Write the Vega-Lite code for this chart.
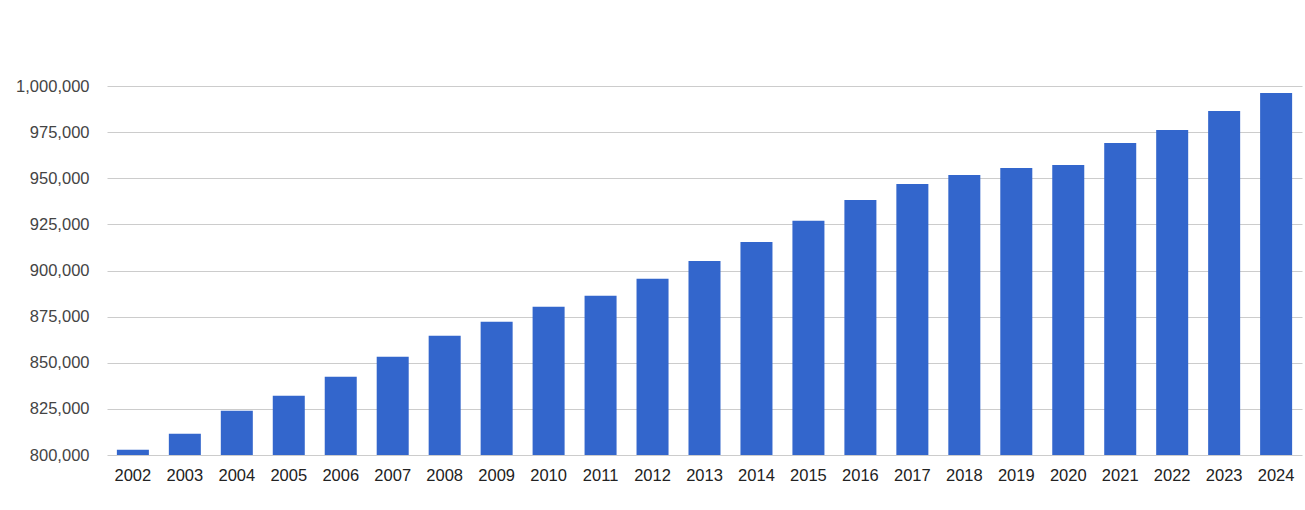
{
  "$schema": "https://vega.github.io/schema/vega-lite/v6.json",
  "width": 1195,
  "height": 369,
  "autosize": {"type": "none"},
  "padding": {"left": 107, "top": 86, "right": 3, "bottom": 55},
  "background": "white",
  "config": {"view": {"stroke": null}, "font": "Liberation Sans"},
  "data": {
    "values": [
      {"year": "2002", "value": 802900},
      {"year": "2003", "value": 811500},
      {"year": "2004", "value": 824000},
      {"year": "2005", "value": 832100},
      {"year": "2006", "value": 842400},
      {"year": "2007", "value": 853200},
      {"year": "2008", "value": 864600},
      {"year": "2009", "value": 872200},
      {"year": "2010", "value": 880300},
      {"year": "2011", "value": 886300},
      {"year": "2012", "value": 895500},
      {"year": "2013", "value": 905200},
      {"year": "2014", "value": 915500},
      {"year": "2015", "value": 926900},
      {"year": "2016", "value": 938200},
      {"year": "2017", "value": 946900},
      {"year": "2018", "value": 951800},
      {"year": "2019", "value": 955600},
      {"year": "2020", "value": 957200},
      {"year": "2021", "value": 969100},
      {"year": "2022", "value": 976200},
      {"year": "2023", "value": 986400},
      {"year": "2024", "value": 996200}
    ]
  },
  "mark": {"type": "bar", "color": "#3366cc", "clip": true},
  "encoding": {
    "x": {
      "field": "year",
      "type": "ordinal",
      "scale": {"paddingInner": 0.384, "paddingOuter": 0.19},
      "axis": {
        "title": null,
        "labelAngle": 0,
        "ticks": false,
        "domain": false,
        "labelPadding": 12,
        "labelFontSize": 16.5,
        "labelColor": "#222222",
        "labelFont": "Liberation Sans"
      }
    },
    "y": {
      "field": "value",
      "type": "quantitative",
      "scale": {"domain": [800000, 1000000], "nice": false, "zero": false},
      "axis": {
        "title": null,
        "values": [800000, 825000, 850000, 875000, 900000, 925000, 950000, 975000, 1000000],
        "format": ",.0f",
        "grid": true,
        "gridColor": "#cccccc",
        "gridOpacity": 1,
        "ticks": false,
        "domain": false,
        "labelPadding": 18,
        "labelFontSize": 16.5,
        "labelColor": "#444444",
        "labelFont": "Liberation Sans"
      }
    }
  }
}
